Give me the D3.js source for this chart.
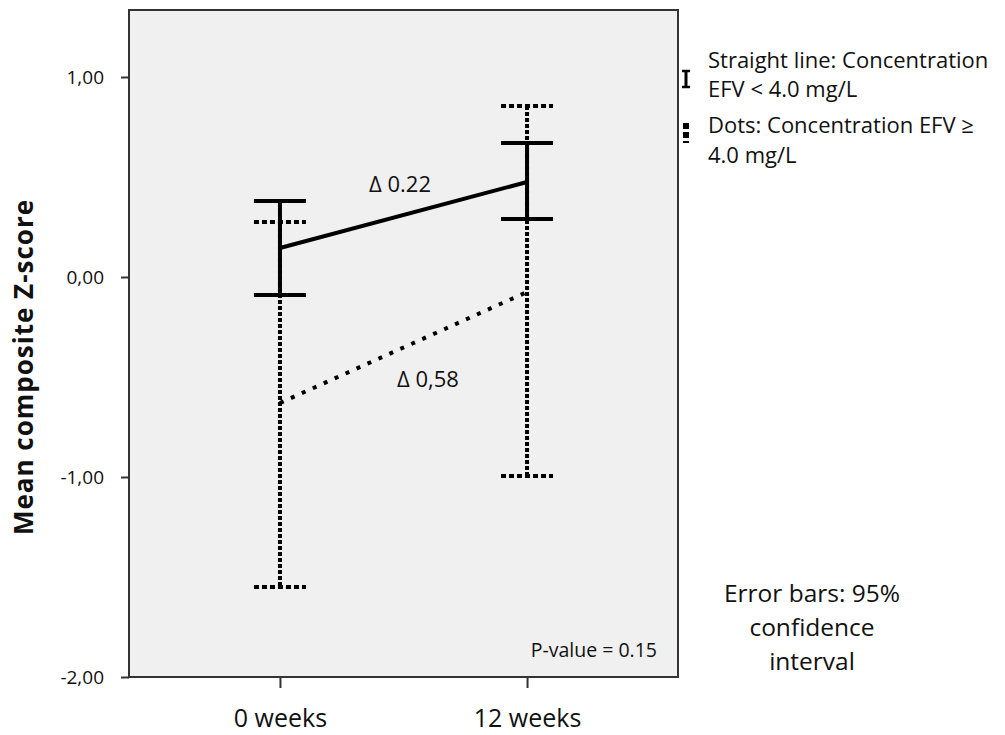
<!DOCTYPE html>
<html>
<head>
<meta charset="utf-8">
<script src="https://cdn.jsdelivr.net/npm/d3@7"></script>
<style>
  body { margin: 0; background: #fff; }
  svg text { font-family: "Open Sans", sans-serif; fill: #111; }
</style>
</head>
<body>
<div id="vis"></div>
<script>
'use strict';

//data
var timepoints = ['0 weeks', '12 weeks'];
var lowMean = [0.145, 0.475];
var lowUpper = [0.38, 0.67];
var lowLower = [-0.09, 0.29];
var highMean = [-0.63, -0.075];
var highUpper = [0.275, 0.855];
var highLower = [-1.55, -0.995];
var yTicks = [1, 0, -1, -2];
var deltaLabels = ['Δ 0.22', 'Δ 0,58'];

//layout
var width = 1005, height = 735;
var plot = { left: 129, top: 10, right: 678, bottom: 677 };

var x = d3.scalePoint().domain(timepoints).range([plot.left, plot.right]).padding(0.611);
var y = d3.scaleLinear().domain([-2, 1.335]).range([plot.bottom, plot.top]);

var svg = d3.select('#vis').append('svg')
    .attr('width', width)
    .attr('height', height);

//plot background + frame
svg.append('rect')
    .attr('x', plot.left).attr('y', plot.top)
    .attr('width', plot.right - plot.left)
    .attr('height', plot.bottom - plot.top)
    .style('fill', '#f0f0f0')
    .style('stroke', '#333')
    .style('stroke-width', 2);

//axes
var yAxis = d3.axisLeft(y)
    .tickValues(yTicks)
    .tickSize(8)
    .tickSizeOuter(0)
    .tickPadding(17)
    .tickFormat(function (d) { return d3.format('.2f')(d).replace('.', ',').replace('\u2212', '-'); });
var gy = svg.append('g')
    .attr('transform', 'translate(' + plot.left + ',0)')
    .call(yAxis);
gy.select('.domain').remove();
gy.selectAll('line').style('stroke', '#333').style('stroke-width', 2);
gy.selectAll('text').style('font-size', '19px').style('fill', '#111');

var xAxis = d3.axisBottom(x).tickSize(11).tickSizeOuter(0).tickPadding(0);
var gx = svg.append('g')
    .attr('transform', 'translate(0,' + plot.bottom + ')')
    .call(xAxis);
gx.select('.domain').remove();
gx.selectAll('line').style('stroke', '#333').style('stroke-width', 2);
gx.selectAll('text')
    .attr('y', 50).attr('dy', 0)
    .style('font-size', '25px').style('fill', '#111');

svg.append('text')
    .attr('transform', 'translate(33,367) rotate(-90)')
    .attr('text-anchor', 'middle')
    .style('font-size', '26px')
    .style('letter-spacing', '1px')
    .style('font-weight', 'bold')
    .text('Mean composite Z-score');

//error bars
var capW = 26;
function drawSeries(mean, upper, lower, opt) {
    var g = svg.append('g');
    //mean connector
    g.append('path')
        .datum(mean)
        .attr('d', d3.line()
            .x(function (d, i) { return x(timepoints[i]); })
            .y(function (d) { return y(d); }))
        .style('fill', 'none')
        .style('stroke', '#000')
        .style('stroke-width', opt.lineW)
        .style('stroke-dasharray', opt.lineDash);
    timepoints.forEach(function (t, i) {
        var cx = x(t);
        g.append('line')
            .attr('x1', cx).attr('x2', cx)
            .attr('y1', y(upper[i])).attr('y2', y(lower[i]))
            .style('stroke', '#000')
            .style('stroke-width', opt.barW)
            .style('stroke-dasharray', opt.barDash);
        [upper[i], lower[i]].forEach(function (v) {
            g.append('line')
                .attr('x1', cx - capW).attr('x2', cx + capW)
                .attr('y1', y(v)).attr('y2', y(v))
                .style('stroke', '#000')
                .style('stroke-width', opt.barW)
                .style('stroke-dasharray', opt.capDash);
        });
    });
}

drawSeries(highMean, highUpper, highLower, { lineW: 4, lineDash: '4,8', barW: 4, barDash: '4,2', capDash: '5,3' });
drawSeries(lowMean, lowUpper, lowLower, { lineW: 4, lineDash: null, barW: 4, barDash: null, capDash: null });

//delta labels
svg.append('text')
    .attr('x', 400)
    .attr('y', 192)
    .attr('text-anchor', 'middle')
    .style('font-size', '22px')
    .text(deltaLabels[0]);
svg.append('text')
    .attr('x', 428)
    .attr('y', 387)
    .attr('text-anchor', 'middle')
    .style('font-size', '22px')
    .text(deltaLabels[1]);

svg.append('text')
    .attr('x', plot.right - 21)
    .attr('y', 657)
    .attr('text-anchor', 'end')
    .style('font-size', '19.5px')
    .text('P-value = 0.15');

//legend
var legendLines = [
    { t: 'Straight line: Concentration', yy: 68 },
    { t: 'EFV < 4.0 mg/L', yy: 97 },
    { t: 'Dots: Concentration EFV ≥', yy: 133 },
    { t: '4.0 mg/L', yy: 163 }
];
svg.selectAll('.leg').data(legendLines).enter().append('text')
    .attr('x', 708)
    .attr('y', function (d) { return d.yy; })
    .style('font-size', '22px')
    .text(function (d) { return d.t; });

//legend icons
var ix = 686;
svg.append('line').attr('x1', ix).attr('x2', ix).attr('y1', 71).attr('y2', 87)
    .style('stroke', '#000').style('stroke-width', 3);
[71, 87].forEach(function (yy) {
    svg.append('line').attr('x1', ix - 4).attr('x2', ix + 4).attr('y1', yy).attr('y2', yy)
        .style('stroke', '#000').style('stroke-width', 2.5);
});
svg.append('line').attr('x1', ix).attr('x2', ix).attr('y1', 123).attr('y2', 143)
    .style('stroke', '#000').style('stroke-width', 6).style('stroke-dasharray', '6,3');

//error bar note
var note = ['Error bars: 95%', 'confidence', 'interval'];
svg.selectAll('.note').data(note).enter().append('text')
    .attr('x', 812)
    .attr('y', function (d, i) { return 602 + i * 34; })
    .attr('text-anchor', 'middle')
    .style('font-size', '24.5px')
    .text(function (d) { return d; });
</script>
</body>
</html>
